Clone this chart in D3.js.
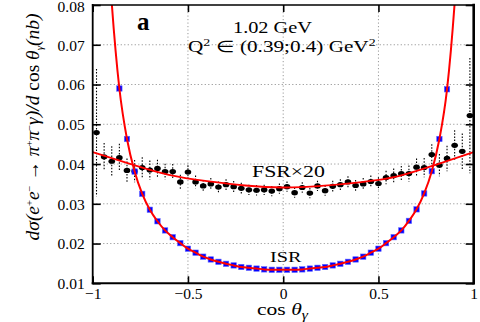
<!DOCTYPE html>
<html>
<head>
<meta charset="utf-8">
<script src="https://cdn.jsdelivr.net/npm/d3@7"></script>
<style>
    body { margin: 0; background: #fff; }
    svg { display: block; }
    text { font-family: "Liberation Serif", "Times New Roman", serif; fill: #000; }
</style>
</head>
<body>
<svg id="chart"></svg>
<script>
// ---- data ----
const fsrCos = [-0.98, -0.94, -0.90, -0.86, -0.82, -0.78, -0.74, -0.70, -0.66, -0.62,
                -0.58, -0.54, -0.50, -0.46, -0.42, -0.38, -0.34, -0.30, -0.26, -0.22,
                -0.18, -0.14, -0.10, -0.06, -0.02, 0.02, 0.06, 0.10, 0.14, 0.18,
                0.22, 0.26, 0.30, 0.34, 0.38, 0.42, 0.46, 0.50, 0.54, 0.58,
                0.62, 0.66, 0.70, 0.74, 0.78, 0.82, 0.86, 0.90, 0.94, 0.98];
const fsrVals = [0.0479, 0.0418, 0.0407, 0.0416, 0.0384, 0.0382, 0.0391, 0.0385, 0.0389, 0.0381,
                 0.0381, 0.0355, 0.0380, 0.0355, 0.0345, 0.0350, 0.0342, 0.0348, 0.0343, 0.0339,
                 0.0335, 0.0334, 0.0335, 0.0332, 0.0338, 0.0343, 0.0328, 0.0341, 0.0327, 0.0345,
                 0.0333, 0.0344, 0.0348, 0.0355, 0.0346, 0.0350, 0.0356, 0.0351, 0.0366, 0.0371,
                 0.0376, 0.0376, 0.0392, 0.0391, 0.0424, 0.0397, 0.0414, 0.0447, 0.0432, 0.0522];
const fsrErr = [0.0160, 0.0035, 0.0038, 0.0035, 0.0030, 0.0028, 0.0026, 0.0024, 0.0022, 0.0020,
                0.0019, 0.0018, 0.0017, 0.0016, 0.0015, 0.0015, 0.0014, 0.0014, 0.0014, 0.0014,
                0.0013, 0.0013, 0.0013, 0.0013, 0.0013, 0.0013, 0.0013, 0.0013, 0.0013, 0.0013,
                0.0013, 0.0014, 0.0014, 0.0014, 0.0014, 0.0015, 0.0015, 0.0016, 0.0017, 0.0018,
                0.0019, 0.0020, 0.0022, 0.0024, 0.0026, 0.0028, 0.0032, 0.0038, 0.0045, 0.0145];

// FSR x20 fit curve (knots)
const fsrFitCos  = [-1.0, -0.8, -0.6, -0.4, -0.2, 0.0, 0.2, 0.4, 0.6, 0.8, 1.0];
const fsrFitVals = [0.0430, 0.0400, 0.0373, 0.0357, 0.0346, 0.0341, 0.0345, 0.0354, 0.0369, 0.0398, 0.0430];

const isrCos = [-0.86, -0.82, -0.78, -0.74, -0.70, -0.66, -0.62, -0.58, -0.54, -0.50, -0.46,
                -0.42, -0.38, -0.34, -0.30, -0.26, -0.22, -0.18, -0.14, -0.10, -0.06, -0.02,
                0.02, 0.06, 0.10, 0.14, 0.18, 0.22, 0.26, 0.30, 0.34, 0.38, 0.42,
                0.46, 0.50, 0.54, 0.58, 0.62, 0.66, 0.70, 0.74, 0.78, 0.82, 0.86];
const isrVals = [0.0590, 0.0463, 0.0381, 0.0325, 0.0285, 0.0256, 0.0233, 0.0216, 0.0201, 0.0187, 0.0177,
                 0.0167, 0.0160, 0.0154, 0.0149, 0.0145, 0.0141, 0.0139, 0.0137, 0.0135, 0.0134, 0.0134,
                 0.0134, 0.0134, 0.0135, 0.0137, 0.0139, 0.0141, 0.0145, 0.0149, 0.0154, 0.0160, 0.0167,
                 0.0177, 0.0187, 0.0201, 0.0216, 0.0233, 0.0257, 0.0286, 0.0326, 0.0382, 0.0463, 0.0588];

// ISR fit runs through the squares and leaves the frame at the top
const isrFitEndCos  = [-0.94, -0.90, 0.90, 0.94];
const isrFitEndVals = [0.1120, 0.0805, 0.0805, 0.1120];

const xTicks = [-1, -0.5, 0, 0.5, 1];
const xTickLabels = ["\u22121", "\u22120.5", "0", "0.5", "1"];
const yTicks = [0.01, 0.02, 0.03, 0.04, 0.05, 0.06, 0.07, 0.08];
const yTickLabels = ["0.01", "0.02", "0.03", "0.04", "0.05", "0.06", "0.07", "0.08"];
const gridX = [-0.5, 0, 0.5];
const gridY = [0.02, 0.03, 0.04, 0.05, 0.06, 0.07];

// ---- layout ----
const width = 480, height = 322;
const plot = { left: 92.7, right: 473.7, top: 5, bottom: 283.3 };

const svg = d3.select("#chart").attr("width", width).attr("height", height);

const x = d3.scaleLinear().domain([-1, 1]).range([plot.left, plot.right]);
const y = d3.scaleLinear().domain([0.01, 0.08]).range([plot.bottom, plot.top]);

svg.append("defs").append("clipPath").attr("id", "plot-clip")
    .append("rect")
    .attr("x", plot.left).attr("y", plot.top)
    .attr("width", plot.right - plot.left).attr("height", plot.bottom - plot.top);

// grid
const grid = svg.append("g").attr("stroke", "#9a9a9a").attr("stroke-width", 1)
    .attr("stroke-dasharray", "1.2,2.3");
grid.selectAll("line.gx").data(gridX).enter().append("line")
    .attr("x1", d => x(d)).attr("x2", d => x(d))
    .attr("y1", plot.top).attr("y2", plot.bottom);
grid.selectAll("line.gy").data(gridY).enter().append("line")
    .attr("y1", d => y(d)).attr("y2", d => y(d))
    .attr("x1", plot.left).attr("x2", plot.right);

const g = svg.append("g").attr("clip-path", "url(#plot-clip)");

// FSR points with dotted error bars
const fsr = fsrCos.map((c, i) => ({ c, v: fsrVals[i], e: fsrErr[i] }));
g.selectAll("line.err").data(fsr).enter().append("line")
    .attr("class", "err")
    .attr("x1", d => x(d.c)).attr("x2", d => x(d.c))
    .attr("y1", d => y(d.v + d.e)).attr("y2", d => y(d.v - d.e))
    .attr("stroke", "#000").attr("stroke-width", 1.1)
    .attr("stroke-dasharray", "1.5,1.6");
g.selectAll("ellipse.fsr").data(fsr).enter().append("ellipse")
    .attr("class", "fsr")
    .attr("cx", d => x(d.c)).attr("cy", d => y(d.v))
    .attr("rx", 3.3).attr("ry", 2.6)
    .attr("fill", "#000");

// ISR squares
const isr = isrCos.map((c, i) => ({ c, v: isrVals[i] }));
const sq = 5.4;
g.selectAll("rect.isr").data(isr).enter().append("rect")
    .attr("class", "isr")
    .attr("x", d => x(d.c) - sq / 2).attr("y", d => y(d.v) - sq / 2)
    .attr("width", sq).attr("height", sq)
    .attr("fill", "#0000ff").attr("stroke", "#6464ff").attr("stroke-width", 0.6);

// red fit curves
const line = d3.line().x(d => x(d[0])).y(d => y(d[1]));
const fsrFit = fsrFitCos.map((c, i) => [c, fsrFitVals[i]]);
g.append("path").datum(fsrFit)
    .attr("d", line.curve(d3.curveNatural))
    .attr("fill", "none").attr("stroke", "#ff0000").attr("stroke-width", 1.8);

const isrFit = isrFitEndCos.slice(0, 2).map((c, i) => [c, isrFitEndVals[i]])
    .concat(isr.map(d => [d.c, d.v]))
    .concat(isrFitEndCos.slice(2).map((c, i) => [c, isrFitEndVals[i + 2]]));
g.append("path").datum(isrFit)
    .attr("d", line.curve(d3.curveMonotoneX))
    .attr("fill", "none").attr("stroke", "#ff0000").attr("stroke-width", 2);

// ---- axes (ticks point inwards) ----
const axisStyle = sel => {
    sel.select(".domain").remove();
    sel.selectAll(".tick line").attr("stroke", "#000").attr("stroke-width", 1.6);
    sel.selectAll(".tick text").attr("font-family", "Liberation Serif, serif").attr("font-size", 15.5).attr("fill", "#000");
};

svg.append("g").attr("transform", `translate(${plot.left},0)`)
    .call(d3.axisLeft(y).tickValues(yTicks).tickSize(-8).tickPadding(8)
        .tickFormat((d, i) => yTickLabels[i]))
    .call(axisStyle)
    .selectAll(".tick text").attr("dy", (d, i) => i === yTicks.length - 1 ? "0.42em" : "0.34em");

svg.append("g").attr("transform", `translate(${plot.right},0)`)
    .call(d3.axisRight(y).tickValues(yTicks).tickSize(-8).tickFormat(""))
    .call(axisStyle);

svg.append("g").attr("transform", `translate(0,${plot.bottom})`)
    .call(d3.axisBottom(x).tickValues(xTicks).tickSize(-7).tickPadding(5)
        .tickFormat((d, i) => xTickLabels[i]))
    .call(axisStyle);

svg.append("g").attr("transform", `translate(0,${plot.top})`)
    .call(d3.axisTop(x).tickValues(xTicks).tickSize(-7).tickFormat(""))
    .call(axisStyle);

// frame
const frame = svg.append("g").attr("stroke", "#000").attr("stroke-linecap", "square");
frame.append("line").attr("x1", plot.left).attr("x2", plot.right).attr("y1", plot.top).attr("y2", plot.top).attr("stroke-width", 1.6);
frame.append("line").attr("x1", plot.left).attr("x2", plot.right).attr("y1", plot.bottom).attr("y2", plot.bottom).attr("stroke-width", 2);
frame.append("line").attr("x1", plot.left).attr("x2", plot.left).attr("y1", plot.top).attr("y2", plot.bottom).attr("stroke-width", 1.8);
frame.append("line").attr("x1", plot.right).attr("x2", plot.right).attr("y1", plot.top).attr("y2", plot.bottom).attr("stroke-width", 2.6);

// ---- labels ----
// the reference face is wider than Times, so stretch each label to its measured width
function place(sel, x0, y0, w) {
    const len = sel.node().getComputedTextLength();
    sel.attr("transform", `translate(${x0},${y0}) scale(${w / len},1)`);
}

svg.append("text").attr("x", 137).attr("y", 30)
    .attr("font-size", 25).attr("font-weight", "bold").text("a");

place(svg.append("text").attr("font-size", 16).text("1.02 GeV"), 233, 33, 79);

const q = svg.append("text").attr("font-size", 16);
q.append("tspan").text("Q");
q.append("tspan").attr("dy", -6).attr("font-size", 10.5).text("2");
q.append("tspan").attr("dy", 6).text(" \u2208 (0.39;0.4) GeV");
q.append("tspan").attr("dy", -6).attr("font-size", 10.5).text("2");
place(q, 188, 51.5, 187);

place(svg.append("text").attr("font-size", 16).text("FSR\u00d720"), 252, 176.5, 73);
place(svg.append("text").attr("font-size", 15.5).text("ISR"), 270, 261.5, 31.5);

// x axis title
const xt = svg.append("text").attr("font-size", 16.5);
xt.append("tspan").text("cos ");
xt.append("tspan").attr("font-style", "italic").text("\u03b8");
xt.append("tspan").attr("dy", 4).attr("font-size", 12).attr("font-style", "italic").text("\u03b3");
place(xt, 257, 315, 51);

// y axis title (rotated), fitted to the span seen in the reference
const yt = svg.append("text")
    .attr("transform", "translate(39,127) rotate(-90)")
    .attr("text-anchor", "middle").attr("font-size", 16).attr("font-style", "italic");
const sup = (t) => { yt.append("tspan").attr("dy", -6).attr("font-size", 10.5).attr("font-style", "normal").text(t); };
const base = (t, dy) => { yt.append("tspan").attr("dy", dy || 0).text(t); };
base("d\u03c3(e"); sup("+");
base("e", 6); sup("\u2212");
base(" \u2192 \u03c0", 6); sup("+");
base("\u03c0", 6); sup("\u2212");
base("\u03b3)/", 6);
base("d ");
yt.append("tspan").attr("font-style", "normal").text("cos ");
base("\u03b8");
yt.append("tspan").attr("dy", 4).attr("font-size", 11).text("\u03b3");
base("(nb)", -4);

const ytLen = yt.node().getComputedTextLength();
yt.attr("font-size", 16 * 233 / ytLen);
</script>
</body>
</html>
